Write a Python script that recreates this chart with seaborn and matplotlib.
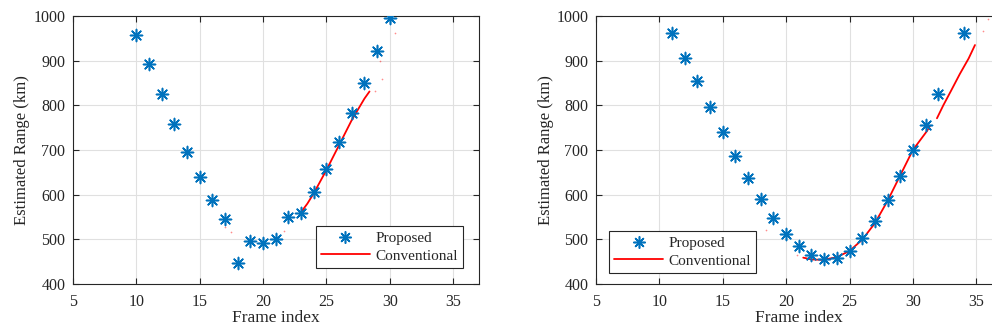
import numpy as np
import pandas as pd
import seaborn as sns
import matplotlib.pyplot as plt
from matplotlib.lines import Line2D

# ---- data -------------------------------------------------------------
frames_left = [10, 11, 12, 13, 14, 15, 16, 17, 18, 19, 20,
               21, 22, 23, 24, 25, 26, 27, 28, 29, 30]
proposed_left = [957, 892, 825, 758, 696, 640, 588, 546, 447, 497, 491,
                 501, 549, 560, 605, 658, 718, 782, 849, 921, 996]

conv_left_x = [22.9, 23.5, 24.0, 25.0, 26.0, 27.0, 28.0, 28.4]
conv_left_y = [557, 580, 603, 655, 711, 767, 815, 831]
conv_left_seg = [0, 0, 0, 0, 0, 0, 0, 0]
sparse_left_x = [17.0, 17.45, 21.2, 21.65, 28.82, 29.2, 29.35, 30.4]
sparse_left_y = [527, 516, 506, 519, 833, 899, 859, 963]

frames_right = [11, 12, 13, 14, 15, 16, 17, 18, 19, 20, 21, 22,
                23, 24, 25, 26, 27, 28, 29, 30, 31, 32, 34]
proposed_right = [963, 907, 854, 796, 740, 687, 637, 590, 548, 512, 484, 464,
                  455, 459, 475, 502, 542, 588, 642, 699, 755, 826, 963]

conv_right_x = [21.35, 22.0, 22.9, 24.0, 25.0, 26.0, 27.0, 28.0, 29.0, 30.0, 31.1, 31.35,
                31.9, 32.4, 33.0, 33.7, 34.4, 34.9]
conv_right_y = [459, 455, 454, 460, 474, 499, 536, 586, 643, 700, 742, 754,
                771, 800, 832, 870, 905, 935]
conv_right_seg = [0] * 12 + [1] * 6
sparse_right_x = [18.42, 20.84, 35.5, 35.96]
sparse_right_y = [521, 465, 967, 993]

x_ticks = [5, 10, 15, 20, 25, 30, 35]
y_ticks = [400, 500, 600, 700, 800, 900, 1000]

# ---- style ------------------------------------------------------------
sns.set_theme(style="white")
plt.rcParams['font.family'] = ['Liberation Serif', 'DejaVu Serif']

BLUE = "#0072BD"
RED = "#FF0000"
INK = "#262626"
ASTERISK = (8, 2, 0)

fig = plt.figure(figsize=(9.92, 3.35), dpi=100)
ax_w = 405.6 / 992
ax_h = 268 / 335
ax_b = 51 / 335
ax1 = fig.add_axes([72.9 / 992, ax_b, ax_w, ax_h])
ax2 = fig.add_axes([596 / 992, ax_b, ax_w, ax_h])


def draw_panel(ax, frames, proposed, cx, cy, cseg, sx, sy, legend_loc, anchor):
    df_p = pd.DataFrame({"frame": frames, "range": proposed})
    df_c = pd.DataFrame({"frame": cx, "range": cy, "seg": cseg})

    ax.grid(True, color="#e0e0e0", linewidth=0.8, zorder=0)
    ax.set_axisbelow(True)

    sns.lineplot(data=df_c, x="frame", y="range", units="seg", estimator=None,
                 color=RED, linewidth=1.3, sort=False, legend=False, ax=ax, zorder=2)
    ax.scatter(sx, sy, s=1.5, color=RED, alpha=0.45, linewidths=0, zorder=2)
    sns.scatterplot(data=df_p, x="frame", y="range", marker=ASTERISK, s=75,
                    color=BLUE, edgecolor=BLUE, linewidth=1.15, legend=False,
                    ax=ax, zorder=3)

    ax.set_xlim(5, 37)
    ax.set_ylim(400, 1000)
    ax.set_xticks(x_ticks)
    ax.set_yticks(y_ticks)
    ax.tick_params(direction="in", length=4, width=0.8, colors=INK,
                   labelsize=11.5, top=True, right=True, bottom=True, left=True)
    ax.tick_params(axis="x", pad=7.5)
    ax.tick_params(axis="y", pad=5.5)
    for sp in ax.spines.values():
        sp.set_color(INK)
        sp.set_linewidth(0.8)
    ax.set_xlabel("Frame index", fontsize=12.5, color=INK, labelpad=0)
    ax.set_ylabel("Estimated Range (km)", fontsize=12, color=INK, labelpad=2)

    handles = [
        Line2D([], [], linestyle="none", marker=ASTERISK, markersize=8.7,
               color=BLUE, markeredgewidth=1.15),
        Line2D([], [], color=RED, linewidth=1.3),
    ]
    leg = ax.legend(handles, ["Proposed", "Conventional"], loc=legend_loc,
                    bbox_to_anchor=anchor, bbox_transform=ax.transAxes,
                    fontsize=11, frameon=True, fancybox=False, framealpha=1,
                    edgecolor=INK, handlelength=3.2, handletextpad=0.35,
                    borderpad=0.35, labelspacing=0.25, borderaxespad=0)
    leg.get_frame().set_linewidth(0.8)


draw_panel(ax1, frames_left, proposed_left, conv_left_x, conv_left_y,
           conv_left_seg, sparse_left_x, sparse_left_y,
           "lower right", (0.962, 0.06))
draw_panel(ax2, frames_right, proposed_right, conv_right_x, conv_right_y,
           conv_right_seg, sparse_right_x, sparse_right_y,
           "lower left", (0.032, 0.041))

fig.savefig("out.png", dpi=100)
